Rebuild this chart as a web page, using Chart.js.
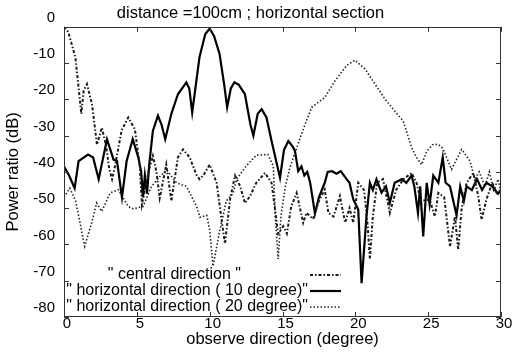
<!DOCTYPE html>
<html><head><meta charset="utf-8">
<script src="https://cdn.jsdelivr.net/npm/chart.js@4.4.1/dist/chart.umd.min.js"></script>
<style>html,body{margin:0;padding:0;background:#fff}#wrap{width:515px;height:354px}</style>
</head><body><div id="wrap"><canvas id="c" width="515" height="354"></canvas></div>
<script>
const chartTitle = 'distance =100cm ; horizontal section';
const xTitle = 'observe direction (degree)';
const yTitle = 'Power ratio (dB)';
const xTicks = [0, 5, 10, 15, 20, 25, 30];
const yTicks = [0, -10, -20, -30, -40, -50, -60, -70, -80];
const seriesNames = ['" central direction "', '" horizontal direction ( 10 degree)"', '" horizontal direction ( 20 degree)"'];

const centralX = [0,0.3,0.78,1.0,1.19,1.35,1.58,1.92,2.15,2.26,2.6,2.9,3.1,3.3,3.5,3.96,4.41,4.87,5.2,5.35,5.6,5.8,6.1,6.35,6.57,7.02,7.37,7.82,8.17,8.63,9.08,9.3,9.56,10.0,10.48,10.8,11.05,11.4,11.74,12.1,12.42,12.77,13.2,13.8,14.25,14.7,15.05,15.3,15.6,15.97,16.42,16.65,17.1,17.5,17.9,18.15,18.5,18.94,19.3,19.6,19.86,20.2,20.6,20.85,21.0,21.2,21.5,21.9,22.37,22.8,23.3,23.86,24.2,24.5,25.1,25.46,25.7,26.1,26.5,26.84,27.06,27.3,27.64,28.1,28.44,28.67,29.0,29.4,29.7,30];
const centralY = [0,-1.5,-8.4,-16.7,-24,-17.6,-15.8,-21.3,-28.7,-32.5,-27.8,-33,-39,-42,-38.4,-28.5,-25,-28.3,-38.4,-49,-44,-40,-35.6,-40,-47.2,-38,-48,-36,-33.8,-36,-40.7,-42,-41,-38,-43,-52.7,-59.8,-47.6,-41,-44,-48.6,-46.7,-43,-40.3,-43,-57,-55,-57,-49.5,-45.8,-54,-51.3,-53,-48,-44.9,-51.3,-52.3,-46.7,-54,-50,-54,-43,-45,-55,-64,-52.3,-43,-42,-51.3,-45,-42,-40.3,-43,-48,-47.6,-52.3,-45.8,-47,-60.6,-52.3,-61.5,-50,-43,-40.3,-46.7,-53.2,-47.6,-43,-45.8,-45];

const deg10X = [0,0.35,0.73,1.0,1.65,2.0,2.38,2.95,3.4,3.64,3.98,4.3,4.72,5.1,5.3,5.42,5.55,5.7,5.85,6.1,6.45,6.7,6.95,7.37,7.82,8.4,8.6,8.8,9.3,9.7,10.0,10.3,10.68,11.0,11.2,11.45,11.7,12.0,12.42,12.8,13.0,13.3,13.57,13.9,14.25,14.83,15.1,15.4,15.7,15.86,16.08,16.3,16.5,16.7,16.9,17.23,17.5,17.9,18.1,18.4,18.7,19.0,19.4,19.6,19.86,20.2,20.43,20.77,21.0,21.2,21.45,21.8,22.1,22.37,22.7,23.2,23.5,23.86,24.05,24.3,24.45,24.66,24.9,25.1,25.35,25.7,26.0,26.2,26.5,26.95,27.2,27.45,27.64,28.0,28.35,28.7,29.0,29.4,29.8,30];
const deg10Y = [-38.5,-41,-44.5,-37,-35.2,-36,-42,-31,-36.6,-37,-47,-37,-31,-36,-40,-47,-41,-46,-38,-28.7,-24.5,-27,-31,-24,-18.6,-15.3,-17,-23.6,-8.4,-2,-0.5,-2.5,-7.5,-16,-22.2,-17,-15.3,-16,-18.6,-27,-30,-24,-22.7,-25,-31.5,-41.6,-34,-31.5,-33,-34.3,-39.8,-38.5,-41,-40,-43,-51.5,-47,-43,-40,-39.8,-40.5,-39.8,-42,-43,-47.6,-50.4,-70.7,-52,-43,-45,-42,-45.7,-44,-48.5,-43,-42,-43,-41,-44,-51.3,-44,-57.8,-43,-49,-41,-43,-36,-43,-44,-52,-44,-48,-44,-45,-42,-45,-43,-44,-46,-45];

const deg20X = [0,0.4,0.8,1.1,1.42,1.9,2.24,2.59,3.16,3.73,4.4,4.76,5.44,6.0,6.6,7.05,7.73,8.4,9.1,9.33,9.8,10.0,10.23,10.68,11.14,11.6,11.85,12.5,13.2,14.0,14.37,14.5,14.7,14.9,15.2,15.5,16.3,17.0,17.9,18.6,19.4,19.97,20.66,21.35,22.03,22.7,23.29,23.86,24.2,24.55,24.9,25.3,25.7,26.0,26.6,27.3,27.87,28.2,28.5,28.9,29.2,29.5,29.8,30];
const deg20Y = [-47,-44.5,-48,-54,-60.5,-54,-48.6,-50.9,-45.8,-44.9,-49.5,-50.2,-49.5,-44,-41.2,-39.5,-43,-44,-49.5,-52.5,-52,-56,-66,-56.4,-48,-46,-42,-38.4,-35.4,-35.2,-38.4,-52,-64,-52,-44,-38.9,-29.6,-22.2,-19.5,-14.9,-10.7,-9.2,-11.6,-15.8,-19.9,-23.2,-26,-33.3,-36,-38,-34.3,-32.5,-32.4,-33.5,-39.3,-33.8,-37,-42,-40,-44,-40,-45,-42,-46];

const toPts = (xs, ys) => xs.map((x, i) => ({ x: x, y: ys[i] }));
const FONT = "'Liberation Sans', Arial, Helvetica, sans-serif";
Chart.defaults.font.family = FONT;
Chart.defaults.color = '#000';

const framePlugin = {
  id: 'frameTicksLegend',
  afterDatasetsDraw(chart) {
    const { ctx, chartArea: a, scales } = chart;
    const x = scales.x, y = scales.y;
    ctx.save();
    ctx.strokeStyle = '#333';
    ctx.lineWidth = 1;
    ctx.setLineDash([]);
    ctx.strokeRect(Math.round(a.left) + 0.5, Math.round(a.top) + 0.5, Math.round(a.right - a.left) - 1, Math.round(a.bottom - a.top) - 1);
    const L = 5;
    ctx.beginPath();
    xTicks.forEach(v => {
      const px = Math.round(x.getPixelForValue(v)) + 0.5;
      ctx.moveTo(px, a.bottom); ctx.lineTo(px, a.bottom - L);
      ctx.moveTo(px, a.top); ctx.lineTo(px, a.top + L);
    });
    yTicks.forEach(v => {
      const py = Math.round(y.getPixelForValue(v)) + 0.5;
      ctx.moveTo(a.left, py); ctx.lineTo(a.left + L, py);
      ctx.moveTo(a.right, py); ctx.lineTo(a.right - L, py);
    });
    ctx.stroke();

    // legend inside the plot (bottom-left)
    const rowDy = [-42, -26, -10];
    const textRight = [177, 244, 244];
    const lineStart = 246, lineEnd = 277;
    ctx.font = '16px ' + FONT;
    ctx.textAlign = 'right';
    ctx.textBaseline = 'middle';
    ctx.fillStyle = '#000';
    chart.data.datasets.forEach((ds, i) => {
      const yy = a.bottom + rowDy[i];
      ctx.fillText(ds.label, a.left + textRight[i], yy);
      ctx.beginPath();
      ctx.strokeStyle = ds.borderColor;
      ctx.lineWidth = ds.borderWidth;
      ctx.setLineDash(ds.borderDash || []);
      ctx.moveTo(a.left + lineStart, yy);
      ctx.lineTo(a.left + lineEnd, yy);
      ctx.stroke();
    });
    ctx.restore();
  }
};

new Chart(document.getElementById('c'), {
  type: 'line',
  data: {
    datasets: [
      { label: seriesNames[0], data: toPts(centralX, centralY), borderColor: '#1a1a1a', borderWidth: 2, borderDash: [3, 2, 1.5, 2], pointRadius: 0, tension: 0, fill: false },
      { label: seriesNames[1], data: toPts(deg10X, deg10Y), borderColor: '#000', borderWidth: 2.2, borderDash: [], pointRadius: 0, tension: 0, fill: false },
      { label: seriesNames[2], data: toPts(deg20X, deg20Y), borderColor: '#222', borderWidth: 1.6, borderDash: [1.5, 2], pointRadius: 0, tension: 0, fill: false }
    ]
  },
  options: {
    responsive: false,
    animation: false,
    devicePixelRatio: 1,
    layout: { padding: { left: 0, right: 14, top: 0, bottom: 0 } },
    plugins: {
      legend: { display: false },
      tooltip: { enabled: false },
      title: { display: true, text: chartTitle, color: '#000', font: { size: 16.5, weight: 'normal', family: FONT }, padding: { top: 4, bottom: 3 } }
    },
    scales: {
      x: {
        type: 'linear', min: 0, max: 30,
        afterBuildTicks: s => { s.ticks = xTicks.map(v => ({ value: v })); },
        afterFit: s => { s.height = 37; },
        grid: { display: false, drawTicks: false },
        border: { display: false },
        ticks: { font: { size: 15 }, color: '#000', padding: -2, labelOffset: 3, maxRotation: 0 },
        title: { display: true, text: xTitle, color: '#000', font: { size: 16.5 }, padding: { top: 5, bottom: 5 } }
      },
      y: {
        type: 'linear', min: -80, max: 0,
        afterBuildTicks: s => { s.ticks = yTicks.map(v => ({ value: v })); },
        afterFit: s => { s.width = 64; },
        grid: { display: false, drawTicks: false },
        border: { display: false },
        ticks: { font: { size: 15 }, color: '#000', padding: 9, labelOffset: -9 },
        title: { display: true, text: yTitle, color: '#000', font: { size: 16.5 }, padding: { top: 4, bottom: 4 } }
      }
    }
  },
  plugins: [framePlugin]
});
</script></body></html>
